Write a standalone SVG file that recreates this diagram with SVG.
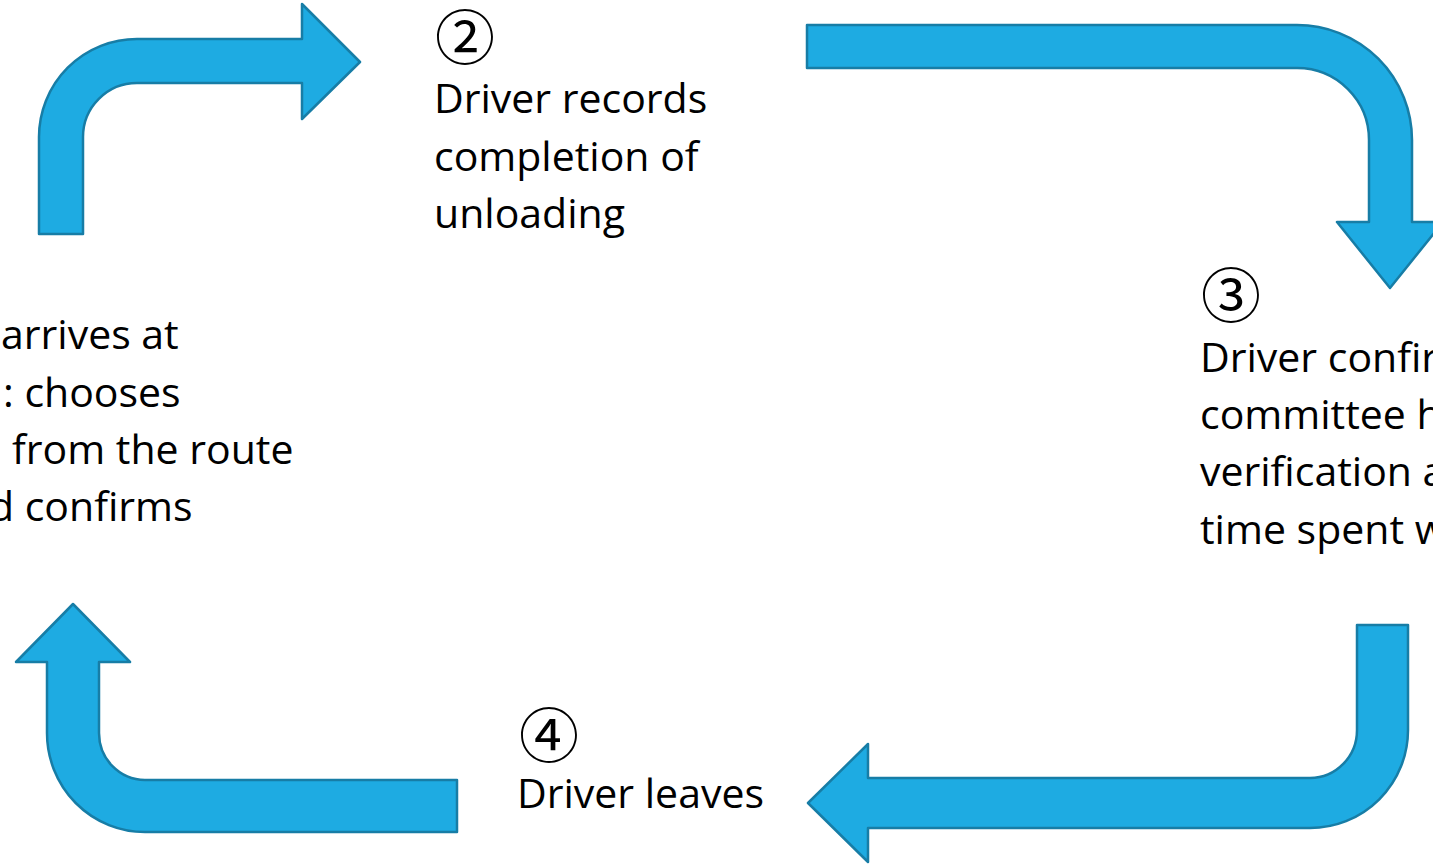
<svg xmlns="http://www.w3.org/2000/svg" width="1433" height="864" viewBox="0 0 1433 864">
  <style>
    .arrow { fill: #1eabe2; stroke: #177da6; stroke-width: 2.5; stroke-linejoin: round; }
    .label { font-family: "Open Sans", "Noto Sans", "Liberation Sans", sans-serif; font-size: 41px; fill: #000; }
    .num { font-family: "Noto Sans CJK JP", "Noto Sans CJK SC", "DejaVu Sans", sans-serif; font-size: 60px; fill: #000; }
  </style>
  <rect width="1433" height="864" fill="#ffffff"/>

  <!-- bent block arrows linking the steps -->
  <g id="connectors">
    <!-- step 1 -> step 2: up, then right -->
    <path class="arrow" d="M 39 234 L 39 137 A 98 98 0 0 1 137 39 L 302 39 L 302 4 L 360 62 L 302 119 L 302 83 L 137 83 A 54 54 0 0 0 83 137 L 83 234 Z"/>
    <!-- step 2 -> step 3: right, then down -->
    <path class="arrow" d="M 807 25 L 1297 25 A 115 115 0 0 1 1412 140 L 1412 222 L 1443 222 L 1390 288 L 1337 222 L 1369 222 L 1369 140 A 72 72 0 0 0 1297 68 L 807 68 Z"/>
    <!-- step 3 -> step 4: down, then left -->
    <path class="arrow" d="M 1357 625 L 1408 625 L 1408 730 A 98 98 0 0 1 1310 828 L 868 828 L 868 862 L 808 803 L 868 744 L 868 778 L 1310 778 A 47 48 0 0 0 1357 730 Z"/>
    <!-- step 4 -> step 1: left, then up -->
    <path class="arrow" d="M 457 780 L 457 832 L 145 832 A 98 99 0 0 1 47 733 L 47 662 L 16 662 L 73 604 L 130 662 L 99 662 L 99 733 A 46 47 0 0 0 145 780 Z"/>
  </g>

  <!-- step 1 (runs off the left edge) -->
  <g id="step1">
    <text class="label" x="1" y="349">arrives at</text>
    <text class="label" x="3" y="407">: chooses</text>
    <text class="label" x="12" y="464">from the route</text>
    <text class="label" x="-11" y="521">d confirms</text>
  </g>

  <!-- step 2 -->
  <g id="step2">
    <text class="num" x="435" y="60">②</text>
    <text class="label" x="434" y="113">Driver records</text>
    <text class="label" x="434" y="171">completion of</text>
    <text class="label" x="434" y="228">unloading</text>
  </g>

  <!-- step 3 (runs off the right edge) -->
  <g id="step3">
    <text class="num" x="1201" y="318">③</text>
    <text class="label" x="1200" y="372">Driver confir</text>
    <text class="label" x="1200" y="429">committee h</text>
    <text class="label" x="1200" y="486">verification a</text>
    <text class="label" x="1200" y="544">time spent w</text>
  </g>

  <!-- step 4 -->
  <g id="step4">
    <text class="num" x="519" y="758">④</text>
    <text class="label" x="517" y="808">Driver leaves</text>
  </g>
</svg>
